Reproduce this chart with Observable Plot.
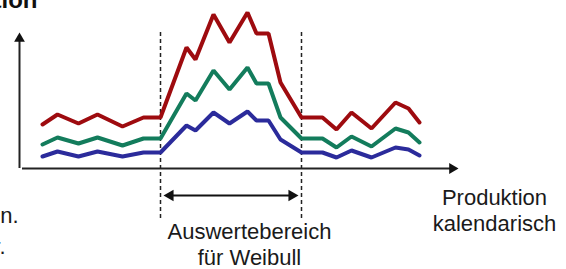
<!DOCTYPE html>
<html><head><meta charset="utf-8">
<script src="https://cdn.jsdelivr.net/npm/d3@7"></script>
<script src="https://cdn.jsdelivr.net/npm/@observablehq/plot@0.6"></script>
<style>html,body{margin:0;padding:0;background:#fff;overflow:hidden;} svg{display:block;}</style>
</head><body><div id="chart"></div>
<script>
// Zeitachse (Produktion kalendarisch)
const zeit = [42, 57, 78, 97, 122, 143, 160, 186, 195, 213, 229, 247, 256, 268, 280, 301, 322, 336, 351, 371, 395, 408, 419];
const obereReihe    = [44, 54, 45, 54, 42, 51, 51, 121, 109, 154, 126, 156, 135, 135, 86, 51, 51, 39, 56, 40, 66, 60, 46];
const mittlereReihe = [24, 31, 25, 31, 23, 30, 30, 75, 68, 98, 79, 101, 85, 85, 51, 30, 30, 21, 32, 22, 40, 36, 26];
const untereReihe   = [12, 17, 12, 17, 12, 16, 16, 43, 38, 56, 45, 57, 48, 48, 29, 16, 16, 11, 18, 11, 21, 19, 13];
const bereich = [160, 301];
const achsenBeschriftung = ["Produktion", "kalendarisch"];
const bereichBeschriftung = ["Auswertebereich", "für Weibull"];
const titelRest = ["Produktion"];
const randText = ["n.", "r."];

const farben = {oben: "#9e0b0f", mitte: "#137c5c", unten: "#2b2b9b"};
const font = "Liberation Sans, Arial, Helvetica, sans-serif";
const pts = (werte) => zeit.map((t, i) => ({t, v: werte[i]}));

const chart = Plot.plot({
  width: 566, height: 269, margin: 0,
  style: {fontFamily: font, background: "#fff", overflow: "hidden"},
  x: {domain: [0, 566], range: [0, 566], axis: null},
  y: {domain: [0, 168], range: [168, 0], axis: null},
  marks: [
    // Auswertebereich Grenzen
    Plot.ruleX(bereich, {x: d => d, y1: -50, y2: 136, stroke: "#222", strokeWidth: 1.5, strokeDasharray: "4,3"}),
    // Achsen
    Plot.ruleX([19], {y1: 0, y2: 130, stroke: "#222", strokeWidth: 2}),
    Plot.ruleY([0], {x1: 22, x2: 452, stroke: "#222", strokeWidth: 2}),
    Plot.dot([{x: 19, y: 129.8}], {x: "x", y: "y", symbol: "triangle", r: 4, fill: "#111", stroke: null}),
    Plot.dot([{x: 451.8, y: 0}], {x: "x", y: "y", symbol: "triangle", r: 4, fill: "#111", stroke: null, rotate: 90}),
    // Doppelpfeil
    Plot.ruleY([-27], {x1: 168, x2: 293, stroke: "#111", strokeWidth: 1.8}),
    Plot.dot([{x: 169.7, y: -27}], {x: "x", y: "y", symbol: "triangle", r: 4.3, fill: "#111", stroke: null, rotate: -90}),
    Plot.dot([{x: 291.3, y: -27}], {x: "x", y: "y", symbol: "triangle", r: 4.3, fill: "#111", stroke: null, rotate: 90}),
    // Reihen
    Plot.line(pts(obereReihe), {x: "t", y: "v", stroke: farben.oben, strokeWidth: 4, strokeLinejoin: "miter"}),
    Plot.line(pts(mittlereReihe), {x: "t", y: "v", stroke: farben.mitte, strokeWidth: 4, strokeLinejoin: "miter"}),
    Plot.line(pts(untereReihe), {x: "t", y: "v", stroke: farben.unten, strokeWidth: 4, strokeLinejoin: "miter"}),
    // Texte
    Plot.text(bereichBeschriftung, {x: 249, y: (d, i) => [-70, -96][i], text: d => d, fontSize: 22, fontFamily: font, lineAnchor: "bottom", textAnchor: "middle", fill: "#1a1a1a"}),
    Plot.text(achsenBeschriftung, {x: 494, y: (d, i) => [-36, -62][i], text: d => d, fontSize: 22, fontFamily: font, lineAnchor: "bottom", textAnchor: "middle", fill: "#1a1a1a"}),
    Plot.text(randText, {x: (d, i) => [18, 5][i], y: (d, i) => [-54, -85][i], text: d => d, fontSize: 22, fontFamily: font, lineAnchor: "bottom", textAnchor: "end", fill: "#1a1a1a"}),
    Plot.text(titelRest, {x: 37, y: 161, text: d => d, fontSize: 24, fontWeight: "bold", fontFamily: font, lineAnchor: "bottom", textAnchor: "end", fill: "#111"})
  ]
});
document.getElementById("chart").append(chart);
</script>
</body></html>
